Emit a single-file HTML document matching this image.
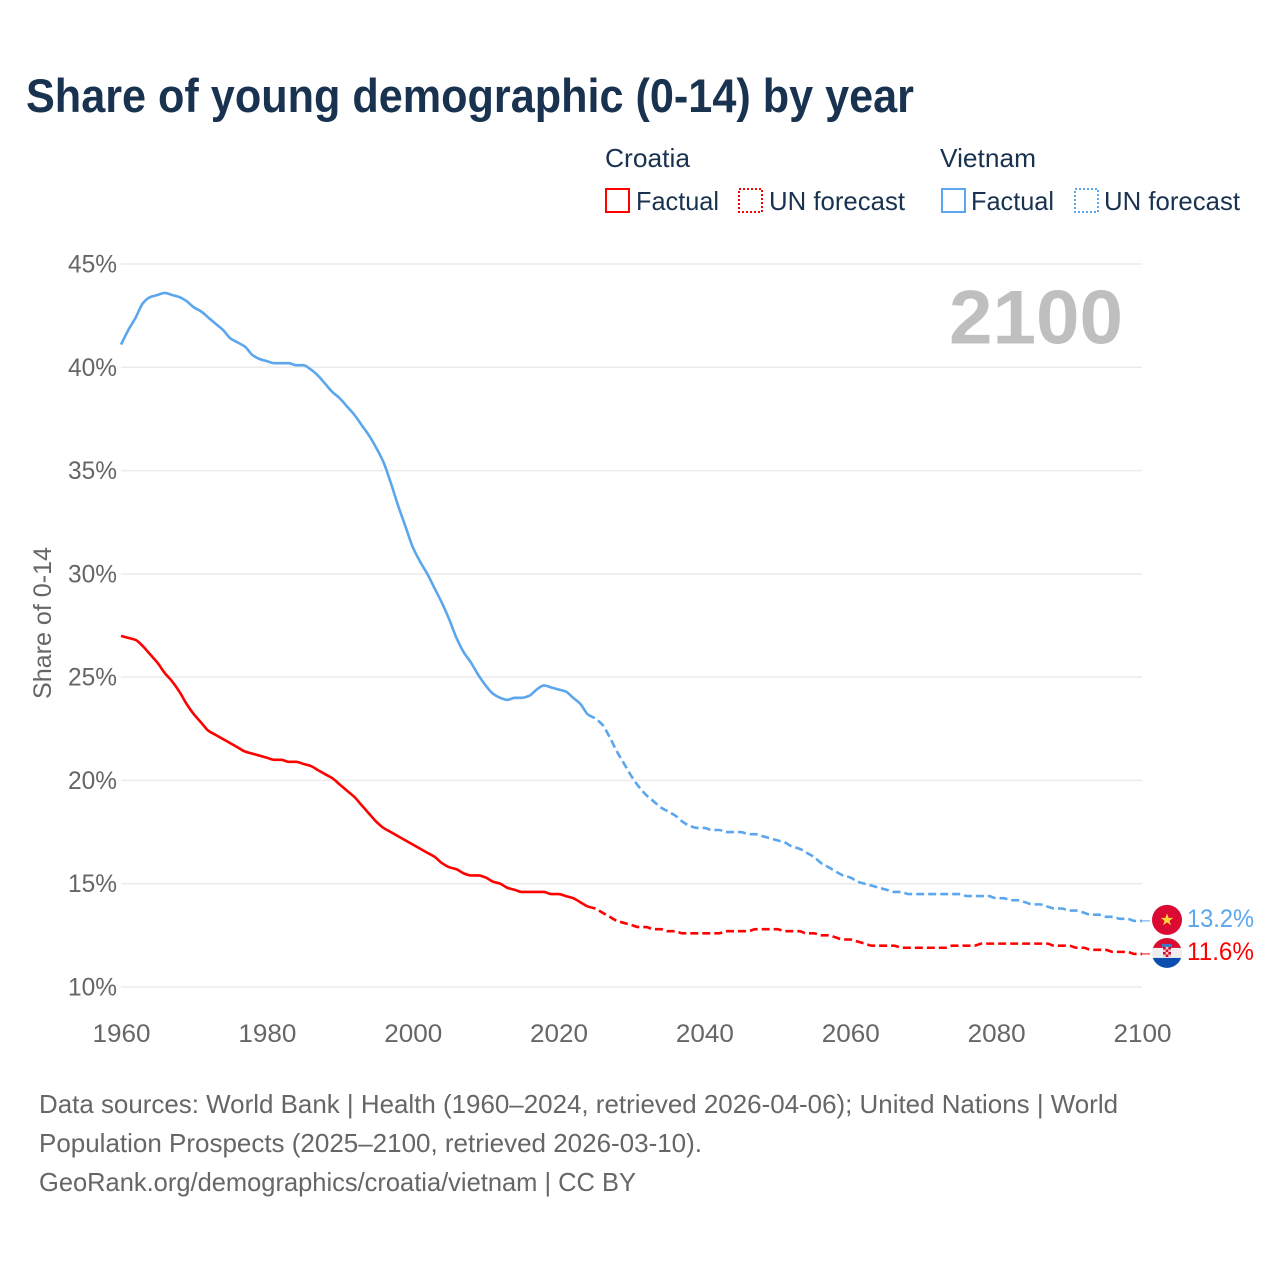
<!DOCTYPE html>
<html lang="en">
<head>
<meta charset="utf-8">
<title>Share of young demographic (0-14) by year</title>
<style>
html,body{margin:0;padding:0;background:#fff;}
svg{display:block;font-family:"Liberation Sans",sans-serif;}
</style>
</head>
<body>
<svg id="chart" xmlns="http://www.w3.org/2000/svg" width="1280" height="1280" viewBox="0 0 1280 1280">
  <defs>
    <clipPath id="flag-clip"><circle cx="0" cy="0" r="15"></circle></clipPath>
  </defs>
  <rect x="0" y="0" width="1280" height="1280" fill="#fff"></rect>
  <text x="26" y="112" font-size="47" font-weight="700" fill="#18324f" textLength="888" lengthAdjust="spacingAndGlyphs">Share of young demographic (0-14) by year</text>

  <g font-size="26" fill="#18324f">
    <text x="605" y="167" textLength="85" lengthAdjust="spacingAndGlyphs">Croatia</text>
    <text x="940" y="167" textLength="96" lengthAdjust="spacingAndGlyphs">Vietnam</text>
    <rect x="606" y="189" width="23" height="23" fill="none" stroke="#ff0000" stroke-width="2"></rect>
    <text x="636" y="210" textLength="83" lengthAdjust="spacingAndGlyphs">Factual</text>
    <rect x="739" y="189" width="23" height="23" fill="none" stroke="#ff0000" stroke-width="2" stroke-dasharray="2 2"></rect>
    <text x="769" y="210" textLength="136" lengthAdjust="spacingAndGlyphs">UN forecast</text>
    <rect x="942" y="189" width="23" height="23" fill="none" stroke="#5ba6ec" stroke-width="2"></rect>
    <text x="971" y="210" textLength="83" lengthAdjust="spacingAndGlyphs">Factual</text>
    <rect x="1075" y="189" width="23" height="23" fill="none" stroke="#5ba6ec" stroke-width="2" stroke-dasharray="2 2"></rect>
    <text x="1104" y="210" textLength="136" lengthAdjust="spacingAndGlyphs">UN forecast</text>
  </g>

  <g id="grid"></g>
  <g id="yticks" font-size="25" fill="#666"></g>
  <g id="xticks" font-size="25" fill="#666"></g>
  <text transform="translate(51,623) rotate(-90)" text-anchor="middle" font-size="25" fill="#666" textLength="152" lengthAdjust="spacingAndGlyphs">Share of 0-14</text>
  <text x="949" y="343.5" font-size="76" font-weight="700" fill="#bfbfbf" textLength="174" lengthAdjust="spacingAndGlyphs">2100</text>

  <g id="series"></g>

  <g id="flag-vietnam">
    <circle cx="0" cy="0" r="15" fill="#da0a33"></circle>
    <polygon points="0,-6.5 1.6,-2 6.2,-2 2.5,0.8 3.9,5.3 0,2.5 -3.9,5.3 -2.5,0.8 -6.2,-2 -1.6,-2" fill="#ffd43b"></polygon>
  </g>
  <g id="flag-croatia">
    <g clip-path="url(#flag-clip)">
      <rect x="-15" y="-15" width="30" height="10" fill="#d80f2f"></rect>
      <rect x="-15" y="-5" width="30" height="10" fill="#eeeeee"></rect>
      <rect x="-15" y="5" width="30" height="10" fill="#0a4fb0"></rect>
      <rect x="-5" y="-9" width="10" height="3" fill="#3a78c8"></rect>
      <rect x="-4" y="-6" width="8" height="10" fill="#f3c9cf"></rect>
      <path d="M-4 -6h2.7v2.5h-2.7zM1.3 -6h2.7v2.5h-2.7zM-1.3 -3.5h2.6v2.5h-2.6zM-4 -1h2.7v2.5h-2.7zM1.3 -1h2.7v2.5h-2.7zM-1.3 1.5h2.6v2.5h-2.6z" fill="#c8102e"></path>
    </g>
  </g>
  <text id="label-vietnam" x="1187" font-size="25" fill="#5ba6ec" textLength="67" lengthAdjust="spacingAndGlyphs"></text>
  <text id="label-croatia" x="1187" font-size="25" fill="#ff0000" textLength="67" lengthAdjust="spacingAndGlyphs"></text>

  <g font-size="26" fill="#666">
    <text x="39" y="1113" textLength="1079" lengthAdjust="spacingAndGlyphs">Data sources: World Bank | Health (1960–2024, retrieved 2026-04-06); United Nations | World</text>
    <text x="39" y="1152" textLength="663" lengthAdjust="spacingAndGlyphs">Population Prospects (2025–2100, retrieved 2026-03-10).</text>
    <text x="39" y="1191" textLength="597" lengthAdjust="spacingAndGlyphs">GeoRank.org/demographics/croatia/vietnam | CC BY</text>
  </g>
</svg>
<script>
const firstYear = 1960;
const lastFactualYear = 2024;
const yTickValues = [10, 15, 20, 25, 30, 35, 40, 45];
const xTickValues = [1960, 1980, 2000, 2020, 2040, 2060, 2080, 2100];
const vietnamValues = [
  41.1,41.8,42.4,43.1,43.4,43.5,43.6,43.5,43.4,43.2,
  42.9,42.7,42.4,42.1,41.8,41.4,41.2,41.0,40.6,40.4,
  40.3,40.2,40.2,40.2,40.1,40.1,39.9,39.6,39.2,38.8,
  38.5,38.1,37.7,37.2,36.7,36.1,35.4,34.4,33.3,32.3,
  31.3,30.6,30.0,29.3,28.6,27.8,26.9,26.2,25.7,25.1,
  24.6,24.2,24.0,23.9,24.0,24.0,24.1,24.4,24.6,24.5,
  24.4,24.3,24.0,23.7,23.2,23.0,22.7,22.1,21.4,20.8,
  20.2,19.7,19.3,19.0,18.7,18.5,18.3,18.0,17.8,17.7,
  17.7,17.6,17.6,17.5,17.5,17.5,17.4,17.4,17.3,17.2,
  17.1,17.0,16.8,16.7,16.5,16.3,16.0,15.8,15.6,15.4,
  15.3,15.1,15.0,14.9,14.8,14.7,14.6,14.6,14.5,14.5,
  14.5,14.5,14.5,14.5,14.5,14.5,14.4,14.4,14.4,14.4,
  14.3,14.3,14.2,14.2,14.1,14.0,14.0,13.9,13.8,13.8,
  13.7,13.7,13.6,13.5,13.5,13.4,13.4,13.3,13.3,13.2,
  13.2
];
const croatiaValues = [
  27.0,26.9,26.8,26.5,26.1,25.7,25.2,24.8,24.3,23.7,
  23.2,22.8,22.4,22.2,22.0,21.8,21.6,21.4,21.3,21.2,
  21.1,21.0,21.0,20.9,20.9,20.8,20.7,20.5,20.3,20.1,
  19.8,19.5,19.2,18.8,18.4,18.0,17.7,17.5,17.3,17.1,
  16.9,16.7,16.5,16.3,16.0,15.8,15.7,15.5,15.4,15.4,
  15.3,15.1,15.0,14.8,14.7,14.6,14.6,14.6,14.6,14.5,
  14.5,14.4,14.3,14.1,13.9,13.8,13.6,13.4,13.2,13.1,
  13.0,12.9,12.9,12.8,12.8,12.7,12.7,12.6,12.6,12.6,
  12.6,12.6,12.6,12.7,12.7,12.7,12.7,12.8,12.8,12.8,
  12.8,12.7,12.7,12.7,12.6,12.6,12.5,12.5,12.4,12.3,
  12.3,12.2,12.1,12.0,12.0,12.0,12.0,11.9,11.9,11.9,
  11.9,11.9,11.9,11.9,12.0,12.0,12.0,12.0,12.1,12.1,
  12.1,12.1,12.1,12.1,12.1,12.1,12.1,12.1,12.0,12.0,
  12.0,11.9,11.9,11.8,11.8,11.8,11.7,11.7,11.7,11.6,
  11.6
];

const NS = 'http://www.w3.org/2000/svg';
const x = function (year) { return 121 + (year - 1960) * (1142 - 121) / 140; };
const y = function (v) { return 987 - (v - 10) * (987 - 264) / 35; };

function svgEl(tag, parent) {
  const el = document.createElementNS(NS, tag);
  parent.appendChild(el);
  return el;
}

const gridGroup = document.getElementById('grid');
const yTickGroup = document.getElementById('yticks');
const xTickGroup = document.getElementById('xticks');
const seriesGroup = document.getElementById('series');

yTickValues.forEach(function (v) {
  const line = svgEl('line', gridGroup);
  
  
  line.setAttribute('x1', x(1960));
  line.setAttribute('x2', x(2100));
  line.setAttribute('y1', y(v));
  line.setAttribute('y2', y(v));
  line.setAttribute('stroke', '#ebebeb');
  line.setAttribute('stroke-width', '1.5');

  const label = svgEl('text', yTickGroup);
  
  
  label.setAttribute('x', 68);
  label.setAttribute('y', y(v) + 8.5);
  label.setAttribute('textLength', '49');
  label.setAttribute('lengthAdjust', 'spacingAndGlyphs');
  label.textContent = v + '%';
});

xTickValues.forEach(function (year) {
  const label = svgEl('text', xTickGroup);
  
  
  label.setAttribute('x', x(year) - 28.5);
  label.setAttribute('y', 1042);
  label.setAttribute('textLength', '58');
  label.setAttribute('lengthAdjust', 'spacingAndGlyphs');
  label.textContent = year;
});

/* Monotone cubic tangent (dy per year) at a given index of the series. */
function slopeAt(values, i) {
  if (i === 0) return values[1] - values[0];
  if (i === values.length - 1) return values[i] - values[i - 1];
  const a = values[i] - values[i - 1];
  const b = values[i + 1] - values[i];
  if (a * b <= 0) return 0;
  return 2 * a * b / (a + b);
}

function pathFor(values, startYear, endYear) {
  const cmds = ['M' + x(startYear).toFixed(2) + ' ' + y(values[startYear - firstYear]).toFixed(2)];
  for (let yr = startYear; yr < endYear; yr++) {
    const i = yr - firstYear;
    const c1 = values[i] + slopeAt(values, i) / 3;
    const c2 = values[i + 1] - slopeAt(values, i + 1) / 3;
    cmds.push('C' + x(yr + 1 / 3).toFixed(2) + ' ' + y(c1).toFixed(2) + ' ' +
      x(yr + 2 / 3).toFixed(2) + ' ' + y(c2).toFixed(2) + ' ' +
      x(yr + 1).toFixed(2) + ' ' + y(values[i + 1]).toFixed(2));
  }
  return cmds.join(' ');
}

function drawSeries(values, color, key) {
  const lastYear = firstYear + values.length - 1;

  const factual = svgEl('path', seriesGroup);
  
  
  factual.setAttribute('data-series', key);
  factual.setAttribute('d', pathFor(values, firstYear, lastFactualYear));
  factual.setAttribute('fill', 'none');
  factual.setAttribute('stroke', color);
  factual.setAttribute('stroke-width', '2.6');
  factual.setAttribute('stroke-linejoin', 'round');

  const forecast = svgEl('path', seriesGroup);
  
  
  forecast.setAttribute('data-series', key);
  forecast.setAttribute('d', pathFor(values, lastFactualYear, lastYear));
  forecast.setAttribute('fill', 'none');
  forecast.setAttribute('stroke', color);
  forecast.setAttribute('stroke-width', '2.6');
  forecast.setAttribute('stroke-dasharray', '8 4');

  const endValue = values[values.length - 1];
  const connector = svgEl('line', seriesGroup);
  
  
  connector.setAttribute('x1', x(lastYear));
  connector.setAttribute('x2', x(lastYear) + 8);
  connector.setAttribute('y1', y(endValue));
  connector.setAttribute('y2', y(endValue));
  connector.setAttribute('stroke', color);
  connector.setAttribute('stroke-width', '1');

  const markerY = y(endValue) - 1;
  document.getElementById('flag-' + key).setAttribute('transform', 'translate(1167,' + markerY.toFixed(2) + ')');
  const label = document.getElementById('label-' + key);
  label.setAttribute('y', (markerY + 7).toFixed(2));
  label.textContent = endValue.toFixed(1) + '%';
}

drawSeries(vietnamValues, '#5ba6ec', 'vietnam');
drawSeries(croatiaValues, '#ff0000', 'croatia');
</script>
</body>
</html>
